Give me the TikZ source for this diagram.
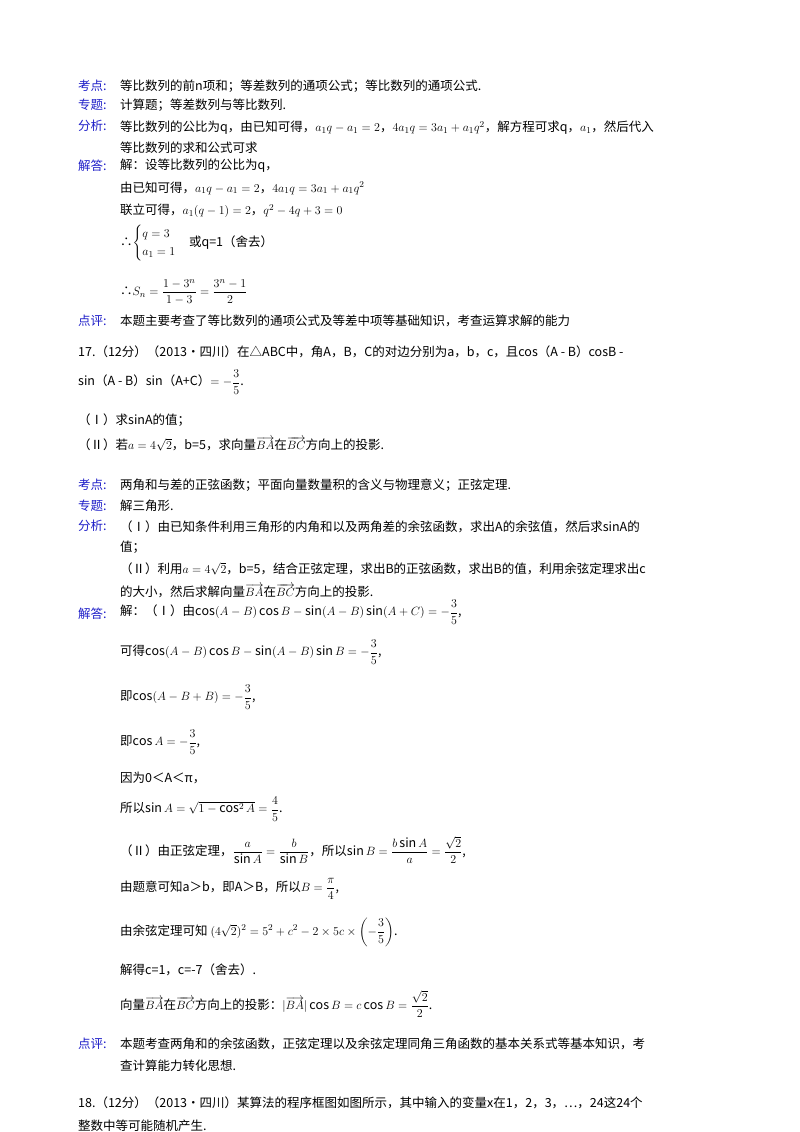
\documentclass[tikz,border=0pt]{standalone}
\usepackage{fontspec}
\usepackage{amsmath}
\setmainfont{Noto Sans CJK SC}
\definecolor{lab}{RGB}{30,30,200}
\begin{document}
\begin{tikzpicture}[x=1pt,y=-1pt,
  t/.style={anchor=west,inner sep=0pt,font=\fontsize{12.5}{15}\selectfont},
  l/.style={t,text=lab}]
\useasboundingbox (0,0) rectangle (800,1132);
\node[l] (k1) at (78,86) {考点:};
\node[t] (k1t) at (120,86) {等比数列的前n项和；等差数列的通项公式；等比数列的通项公式.};
\node[l] (z1) at (78,105) {专题:};
\node[t] (z1t) at (120,105) {计算题；等差数列与等比数列.};
\node[l] (f1) at (78,126) {分析:};
\node[t] (f1t) at (120,128) {等比数列的公比为q，由已知可得，$a_1q-a_1=2$，$4a_1q=3a_1+a_1q^2$，解方程可求q，$a_1$，然后代入};
\node[t] (f1u) at (120,148) {等比数列的求和公式可求};
\node[l] (j1) at (78,166) {解答:};
\node[t] (j1t) at (120,166) {解：设等比数列的公比为q，};
\node[t] (j1a) at (120,188) {由已知可得，$a_1q-a_1=2$，$4a_1q=3a_1+a_1q^2$};
\node[t] (j1b) at (120,211) {联立可得，$a_1(q-1)=2$，$q^2-4q+3=0$};
\node[t] (j1c) at (120,243) {∴$\begin{cases}q=3\\ a_1=1\end{cases}$或q=1（舍去）};
\node[t] (j1d) at (120,292) {∴$S_n=\dfrac{1-3^n}{1-3}=\dfrac{3^n-1}{2}$};
\node[l] (d1) at (78,321) {点评:};
\node[t] (d1t) at (120,321) {本题主要考查了等比数列的通项公式及等差中项等基础知识，考查运算求解的能力};
\node[t] (q17) at (78,352) {17.（12分）（2013•四川）在△ABC中，角A，B，C的对边分别为a，b，c，且cos（A - B）cosB -};
\node[t] (q17b) at (78,382) {sin（A - B）sin（A+C）$=-\dfrac{3}{5}$.};
\node[t] (q17c) at (78,420) {（Ⅰ）求sinA的值；};
\node[t] (q17d) at (78,444) {（Ⅱ）若$a=4\sqrt2$，b=5，求向量$\overrightarrow{BA}$在$\overrightarrow{BC}$方向上的投影.};
\node[l] (k2) at (78,485) {考点:};
\node[t] (k2t) at (120,485) {两角和与差的正弦函数；平面向量数量积的含义与物理意义；正弦定理.};
\node[l] (z2) at (78,506) {专题:};
\node[t] (z2t) at (120,506) {解三角形.};
\node[l] (f2) at (78,526) {分析:};
\node[t] (f2t) at (120,527) {（Ⅰ）由已知条件利用三角形的内角和以及两角差的余弦函数，求出A的余弦值，然后求sinA的};
\node[t] (f2u) at (120,547) {值；};
\node[t] (f2v) at (120,569) {（Ⅱ）利用$a=4\sqrt2$，b=5，结合正弦定理，求出B的正弦函数，求出B的值，利用余弦定理求出c};
\node[t] (f2w) at (120,591) {的大小，然后求解向量$\overrightarrow{BA}$在$\overrightarrow{BC}$方向上的投影.};
\node[l] (j2) at (78,614) {解答:};
\node[t] (a1) at (120,612) {解：（Ⅰ）由$\cos(A-B)\cos B-\sin(A-B)\sin(A+C)=-\dfrac{3}{5}$,};
\node[t] (a2) at (120,652) {可得$\cos(A-B)\cos B-\sin(A-B)\sin B=-\dfrac{3}{5}$,};
\node[t] (a3) at (120,697) {即$\cos(A-B+B)=-\dfrac{3}{5}$,};
\node[t] (a4) at (120,742) {即$\cos A=-\dfrac{3}{5}$,};
\node[t] (a5) at (120,778) {因为0＜A＜π，};
\node[t] (a6) at (120,809) {所以$\sin A=\sqrt{1-\cos^2 A}=\dfrac{4}{5}$.};
\node[t] (a7) at (120,850) {（Ⅱ）由正弦定理，$\dfrac{a}{\sin A}=\dfrac{b}{\sin B}$，所以$\sin B=\dfrac{b\sin A}{a}=\dfrac{\sqrt2}{2}$,};
\node[t] (a8) at (120,889) {由题意可知a＞b，即A＞B，所以$B=\dfrac{\pi}{4}$,};
\node[t] (a9) at (120,932) {由余弦定理可知 $(4\sqrt2)^2=5^2+c^2-2\times5c\times\left(-\dfrac{3}{5}\right)$.};
\node[t] (a10) at (120,970) {解得c=1，c=-7（舍去）.};
\node[t] (a11) at (120,1004) {向量$\overrightarrow{BA}$在$\overrightarrow{BC}$方向上的投影：$|\overrightarrow{BA}|\cos B=c\cos B=\dfrac{\sqrt2}{2}$.};
\node[l] (d2) at (78,1044) {点评:};
\node[t] (d2t) at (120,1044) {本题考查两角和的余弦函数，正弦定理以及余弦定理同角三角函数的基本关系式等基本知识，考};
\node[t] (d2u) at (120,1066) {查计算能力转化思想.};
\node[t] (q18) at (78,1103) {18.（12分）（2013•四川）某算法的程序框图如图所示，其中输入的变量x在1，2，3，…，24这24个};
\node[t] (q18b) at (78,1126) {整数中等可能随机产生.};
\end{tikzpicture}
\end{document}
